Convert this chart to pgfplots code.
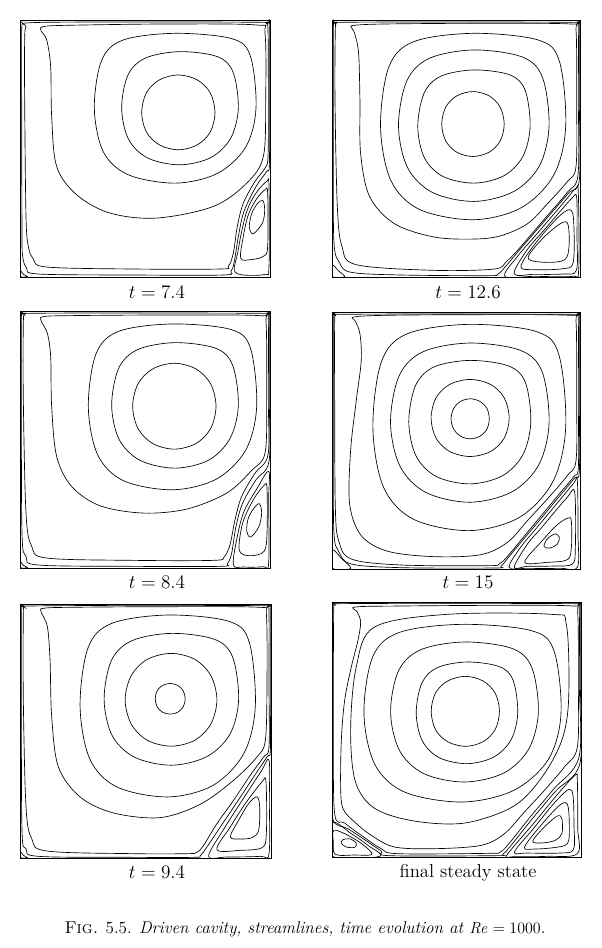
\documentclass[border=0pt]{standalone}
\usepackage{pgfplots}
\pgfplotsset{compat=1.18}
\begin{document}
\begin{tikzpicture}
\path (0,0) rectangle (451.5pt,-711pt);
\pgfplotsset{
  panel/.style={scale only axis, anchor=north west, y dir=reverse,
    xtick=\empty, ytick=\empty, axis line style={line width=0.6pt}, clip=true},
  sl/.style={black, line width=0.5pt, smooth cycle, tension=0.55, mark=none}
}
% ---------------- t = 7.4
\begin{axis}[panel, at={(15pt,-15pt)}, width=187.5pt, height=192.75pt,
  xmin=60, xmax=810, ymin=60, ymax=832]
\addplot[sl] coordinates {(645,338) (631,279) (592,240) (535,225) (478,240) (439,279) (425,338) (439,396) (478,435) (535,450) (592,435) (631,396)};
\addplot[sl] coordinates {(715,325) (699,216) (652,170) (540,155) (437,174) (384,225) (365,325) (386,419) (444,475) (540,495) (633,473) (692,415)};
\addplot[sl] coordinates {(768,325) (751,168) (695,116) (526,100) (370,120) (305,181) (283,325) (310,456) (385,525) (526,550) (652,521) (737,442)};
\addplot[sl] coordinates {(130,80) (200,76) (500,72) (770,75) (795,100) (797,300) (790,470) (740,550) (640,620) (470,655) (330,640) (230,585) (170,500) (155,350) (152,200) (140,120) (123,92)};
\addplot[sl] coordinates {(95,68) (400,66) (780,67) (798,72) (804,90) (805,300) (804,470) (795,505) (765,545) (730,610) (712,680) (700,760) (685,800) (660,808) (400,808) (140,802) (100,778) (85,740) (78,650) (74,300) (74,120) (78,80)};
\addplot[sl] coordinates {(80,62) (400,62) (795,62) (807,65) (809,80) (809,300) (808,495) (800,515) (767,562) (732,635) (716,705) (703,785) (693,815) (670,826) (400,826) (115,823) (80,805) (68,770) (66,700) (65,300) (65,100) (68,70)};
\addplot[sl] coordinates {(703,812) (713,760) (725,695) (742,630) (768,580) (800,545) (807,560) (807,800) (795,824) (730,826)};
\addplot[sl] coordinates {(722,775) (730,710) (745,645) (770,597) (795,570) (803,580) (803,740) (790,770) (750,780)};
\addplot[sl] coordinates {(788,602) (794,628) (788,668) (760,702) (748,682) (755,642) (772,612)};
\addplot[sl] coordinates {(62,814) (70,824) (82,831) (62,831)};
\end{axis}
% ---------------- t = 12.6
\begin{axis}[panel, at={(249pt,-15pt)}, width=186pt, height=192.75pt,
  xmin=92, xmax=838, ymin=60, ymax=832]
\addplot[sl] coordinates {(610,373) (598,322) (565,288) (516,275) (467,288) (434,322) (422,373) (434,423) (467,457) (516,470) (565,457) (598,423)};
\addplot[sl] coordinates {(688,380) (673,271) (627,225) (519,210) (419,229) (369,280) (350,380) (370,474) (426,530) (519,550) (609,528) (666,470)};
\addplot[sl] coordinates {(745,378) (725,232) (664,171) (519,150) (385,175) (317,243) (292,378) (319,503) (394,578) (519,605) (639,575) (716,498)};
\addplot[sl] coordinates {(795,380) (776,184) (712,120) (517,100) (338,125) (263,201) (238,380) (269,542) (355,629) (517,660) (661,624) (759,526)};
\addplot[sl] coordinates {(158,76) (250,72) (520,70) (810,72) (826,90) (828,300) (826,500) (800,545) (740,612) (680,672) (600,708) (520,718) (400,712) (280,672) (205,590) (178,460) (176,300) (172,160) (160,100) (150,82)};
\addplot[sl] coordinates {(120,67) (450,66) (815,67) (829,71) (833,85) (833,300) (832,525) (800,577) (750,636) (700,694) (650,752) (615,787) (580,808) (400,812) (165,795) (122,740) (108,620) (101,300) (102,90) (106,72)};
\addplot[sl] coordinates {(110,62) (450,62) (825,62) (835,65) (836,80) (836,300) (836,540) (805,578) (755,636) (705,694) (655,752) (610,805) (590,824) (560,828) (300,826) (150,818) (115,790) (98,730) (96,500) (96,100) (99,68)};
\addplot[sl] coordinates {(612,830) (650,770) (700,712) (750,654) (800,595) (826,565) (833,580) (834,810) (815,830) (700,830)};
\addplot[sl] coordinates {(640,822) (680,749) (730,691) (780,633) (815,594) (828,592) (829,710) (827,812) (787,823) (700,824)};
\addplot[sl] coordinates {(660,800) (707,727) (777,648) (812,632) (820,690) (817,790) (787,807) (700,810)};
\addplot[sl] coordinates {(682,775) (727,715) (782,670) (802,675) (805,740) (792,780) (737,788)};
\addplot[sl] coordinates {(93,796) (111,813) (130,831) (93,831)};
\end{axis}
% ---------------- t = 8.4
\begin{axis}[panel, at={(15pt,-233.25pt)}, width=187.5pt, height=192.75pt,
  xmin=60, xmax=810, ymin=33, ymax=805]
\addplot[sl] coordinates {(648,319) (632,252) (588,207) (523,190) (458,207) (414,252) (398,319) (414,386) (458,431) (523,448) (588,431) (632,386)};
\addplot[sl] coordinates {(715,317) (698,196) (647,145) (525,128) (413,149) (356,205) (335,317) (358,420) (421,482) (525,505) (626,481) (690,416)};
\addplot[sl] coordinates {(770,321) (752,147) (694,89) (518,72) (356,94) (288,162) (265,321) (293,465) (371,543) (518,570) (649,538) (737,451)};
\addplot[sl] coordinates {(130,50) (200,47) (500,45) (780,47) (798,65) (800,300) (795,460) (755,512) (680,580) (560,628) (430,640) (300,618) (215,560) (170,470) (155,320) (152,170) (142,100) (123,62)};
\addplot[sl] coordinates {(90,40) (400,39) (785,40) (800,44) (805,60) (805,300) (804,465) (765,520) (725,590) (705,660) (690,735) (672,772) (640,782) (400,782) (140,775) (95,740) (78,640) (70,300) (70,70) (75,45)};
\addplot[sl] coordinates {(80,35) (400,35) (795,35) (806,38) (808,50) (808,300) (807,485) (768,540) (728,610) (708,680) (695,760) (682,792) (660,800) (400,800) (115,796) (78,770) (66,700) (64,300) (64,60) (68,38)};
\addplot[sl] coordinates {(700,795) (712,710) (732,635) (770,568) (806,515) (806,600) (806,790) (790,801) (730,802)};
\addplot[sl] coordinates {(718,752) (728,670) (760,600) (792,557) (801,565) (801,700) (792,755) (750,768)};
\addplot[sl] coordinates {(778,612) (785,640) (776,682) (752,712) (740,694) (745,655) (762,625)};
\addplot[sl] coordinates {(62,787) (70,797) (82,804) (62,804)};
\end{axis}
% ---------------- t = 15
\begin{axis}[panel, at={(249pt,-234pt)}, width=186pt, height=192.75pt,
  xmin=92, xmax=838, ymin=35, ymax=805]
\addplot[sl] coordinates {(565,355) (558,324) (537,303) (508,295) (478,303) (458,324) (450,355) (458,386) (478,407) (508,415) (537,407) (558,386)};
\addplot[sl] coordinates {(625,353) (610,292) (569,252) (508,237) (446,252) (405,292) (390,353) (405,413) (446,453) (508,468) (569,453) (610,413)};
\addplot[sl] coordinates {(690,365) (674,247) (624,197) (507,180) (398,200) (343,256) (323,365) (345,467) (406,528) (507,550) (604,526) (666,463)};
\addplot[sl] coordinates {(745,367) (724,214) (659,150) (507,128) (366,154) (294,226) (268,367) (297,498) (375,576) (507,605) (633,574) (714,493)};
\addplot[sl] coordinates {(795,381) (775,165) (708,94) (505,72) (319,100) (241,183) (215,381) (247,560) (337,656) (505,690) (656,650) (757,542)};
\addplot[sl] coordinates {(158,50) (250,45) (520,43) (810,45) (826,62) (828,300) (826,480) (800,525) (740,595) (680,660) (620,725) (540,762) (400,768) (260,752) (180,705) (145,610) (148,450) (165,300) (180,180) (176,100) (162,62)};
\addplot[sl] coordinates {(115,42) (450,41) (815,42) (828,46) (833,60) (833,300) (833,500) (820,527) (780,575) (740,623) (700,671) (660,719) (620,767) (595,790) (560,795) (300,793) (150,775) (112,720) (102,620) (100,300) (100,65) (104,46)};
\addplot[sl] coordinates {(110,37) (450,37) (825,37) (835,40) (836,55) (836,300) (836,512) (822,532) (782,580) (742,628) (702,676) (662,723) (622,771) (600,797) (580,802) (300,801) (150,790) (112,752) (98,700) (96,500) (96,60) (99,40)};
\addplot[sl] coordinates {(625,800) (660,739) (700,691) (740,643) (780,595) (820,547) (830,540) (832,700) (830,800) (780,803) (680,803)};
\addplot[sl] coordinates {(640,800) (680,730) (720,684) (760,636) (800,590) (822,575) (824,740) (815,790) (760,796) (680,797)};
\addplot[sl] coordinates {(672,785) (720,725) (770,672) (803,652) (812,662) (812,740) (800,777) (740,785)};
\addplot[sl] coordinates {(765,700) (776,710) (770,730) (748,742) (730,738) (737,718) (752,705)};
\addplot[sl] coordinates {(94,748) (120,773) (148,803) (94,803)};
\end{axis}
% ---------------- t = 9.4
\begin{axis}[panel, at={(15pt,-453pt)}, width=188.25pt, height=190.5pt,
  xmin=60, xmax=812, ymin=12, ymax=773]
\addplot[sl] coordinates {(555,296) (549,272) (533,256) (510,250) (487,256) (471,272) (465,296) (471,320) (487,336) (510,342) (533,336) (549,320)};
\addplot[sl] coordinates {(650,299) (632,227) (584,178) (513,160) (441,178) (393,227) (375,299) (393,371) (441,420) (513,438) (584,420) (632,371)};
\addplot[sl] coordinates {(715,298) (697,171) (643,118) (514,100) (395,122) (334,181) (312,298) (336,406) (403,471) (514,495) (620,469) (689,402)};
\addplot[sl] coordinates {(765,318) (747,127) (686,64) (503,45) (335,70) (264,143) (240,318) (269,476) (350,560) (503,590) (639,555) (731,459)};
\addplot[sl] coordinates {(130,25) (200,22) (500,20) (780,22) (798,40) (800,250) (795,420) (770,470) (700,540) (600,612) (480,652) (340,638) (240,590) (175,500) (155,350) (150,180) (142,80) (123,35)};
\addplot[sl] coordinates {(90,18) (400,16) (790,17) (802,20) (806,35) (806,250) (806,440) (790,470) (750,525) (700,600) (650,670) (610,735) (590,756) (560,760) (400,760) (140,752) (95,715) (78,620) (70,300) (70,40) (74,22)};
\addplot[sl] coordinates {(80,14) (400,13) (800,13) (809,16) (810,30) (810,300) (810,452) (800,470) (760,530) (710,606) (660,680) (620,740) (600,766) (580,771) (400,771) (115,768) (78,745) (66,690) (64,300) (64,30) (67,16)};
\addplot[sl] coordinates {(625,768) (672,684) (727,598) (782,514) (806,480) (807,600) (806,760) (780,768) (680,770)};
\addplot[sl] coordinates {(650,748) (690,680) (735,610) (785,545) (797,545) (798,700) (785,742) (720,750)};
\addplot[sl] coordinates {(690,710) (715,660) (745,610) (770,590) (778,620) (775,690) (755,712) (720,716)};
\addplot[sl] coordinates {(62,755) (70,765) (82,772) (62,772)};
\end{axis}
% ---------------- final steady state
\begin{axis}[panel, at={(249pt,-451.5pt)}, width=186.75pt, height=191.25pt,
  xmin=92, xmax=840, ymin=5, ymax=770]
\addplot[sl] coordinates {(595,333) (582,278) (546,242) (493,228) (439,242) (403,278) (390,333) (403,388) (439,424) (493,438) (546,424) (582,388)};
\addplot[sl] coordinates {(650,338) (636,240) (595,199) (498,185) (408,202) (362,248) (345,338) (363,421) (414,472) (498,490) (578,470) (630,418)};
\addplot[sl] coordinates {(712,335) (692,201) (632,144) (490,125) (359,148) (292,211) (268,335) (295,451) (368,520) (490,545) (608,518) (683,446)};
\addplot[sl] coordinates {(780,339) (759,152) (691,91) (484,72) (295,96) (215,168) (188,339) (221,493) (312,576) (484,605) (638,570) (742,477)};
\addplot[sl] coordinates {(438,42) (750,42) (796,73) (803,292) (783,418) (723,530) (637,618) (491,668) (339,662) (220,624) (162,543) (148,386) (165,199) (220,80)};
\addplot[sl] coordinates {(162,20) (300,17) (600,15) (815,17) (830,35) (832,250) (829,440) (790,500) (730,570) (670,635) (610,700) (540,735) (400,745) (280,740) (210,705) (160,665) (125,625) (118,560) (120,420) (130,300) (150,200) (170,120) (178,65) (168,35)};
\addplot[sl] coordinates {(115,10) (450,9) (820,10) (831,13) (835,28) (835,250) (834,470) (758,566) (688,649) (630,722) (598,755) (560,759) (290,760) (240,745) (180,705) (130,668) (100,640) (96,400) (97,40) (101,14)};
\addplot[sl] coordinates {(110,7) (450,7) (828,7) (837,9) (838,20) (838,250) (837,488) (763,573) (693,656) (630,735) (605,762) (580,766) (265,766) (240,752) (190,718) (140,685) (94,655) (93,500) (93,30) (95,9)};
\addplot[sl] coordinates {(94,668) (150,700) (200,735) (235,768) (94,768)};
\addplot[sl] coordinates {(98,690) (140,705) (185,733) (212,762) (160,764) (102,762) (96,725)};
\addplot[sl] coordinates {(125,718) (148,716) (165,729) (160,741) (135,740) (120,729)};
\addplot[sl] coordinates {(617,765) (697,670) (767,585) (822,525) (829,540) (830,680) (829,760) (737,768) (637,769)};
\addplot[sl] coordinates {(640,755) (697,685) (767,600) (812,570) (819,680) (817,748) (777,758) (677,758)};
\addplot[sl] coordinates {(670,742) (707,690) (772,618) (799,612) (805,680) (799,730) (757,742) (700,746)};
\addplot[sl] coordinates {(695,722) (728,682) (767,648) (782,653) (783,698) (763,720) (720,728)};
\end{axis}
% ---------------- labels
\begin{scope}[font=\fontsize{14}{17}\selectfont]
\node[anchor=base] at (117.75pt,-223.5pt) {$t=7.4$};
\node[anchor=base] at (351pt,-223.5pt) {$t=12.6$};
\node[anchor=base] at (117.75pt,-441.4pt) {$t=8.4$};
\node[anchor=base] at (351pt,-441.4pt) {$t=15$};
\node[anchor=base] at (117.75pt,-659pt) {$t=9.4$};
\node[anchor=base] at (351pt,-658pt) {final steady state};
\end{scope}
\node[anchor=base, font=\fontsize{12.8}{15}\selectfont] at (228.75pt,-699.75pt) {\textsc{Fig.} 5.5. \textit{Driven cavity, streamlines, time evolution at} $\mathit{Re}=1000$.};
\end{tikzpicture}
\end{document}
